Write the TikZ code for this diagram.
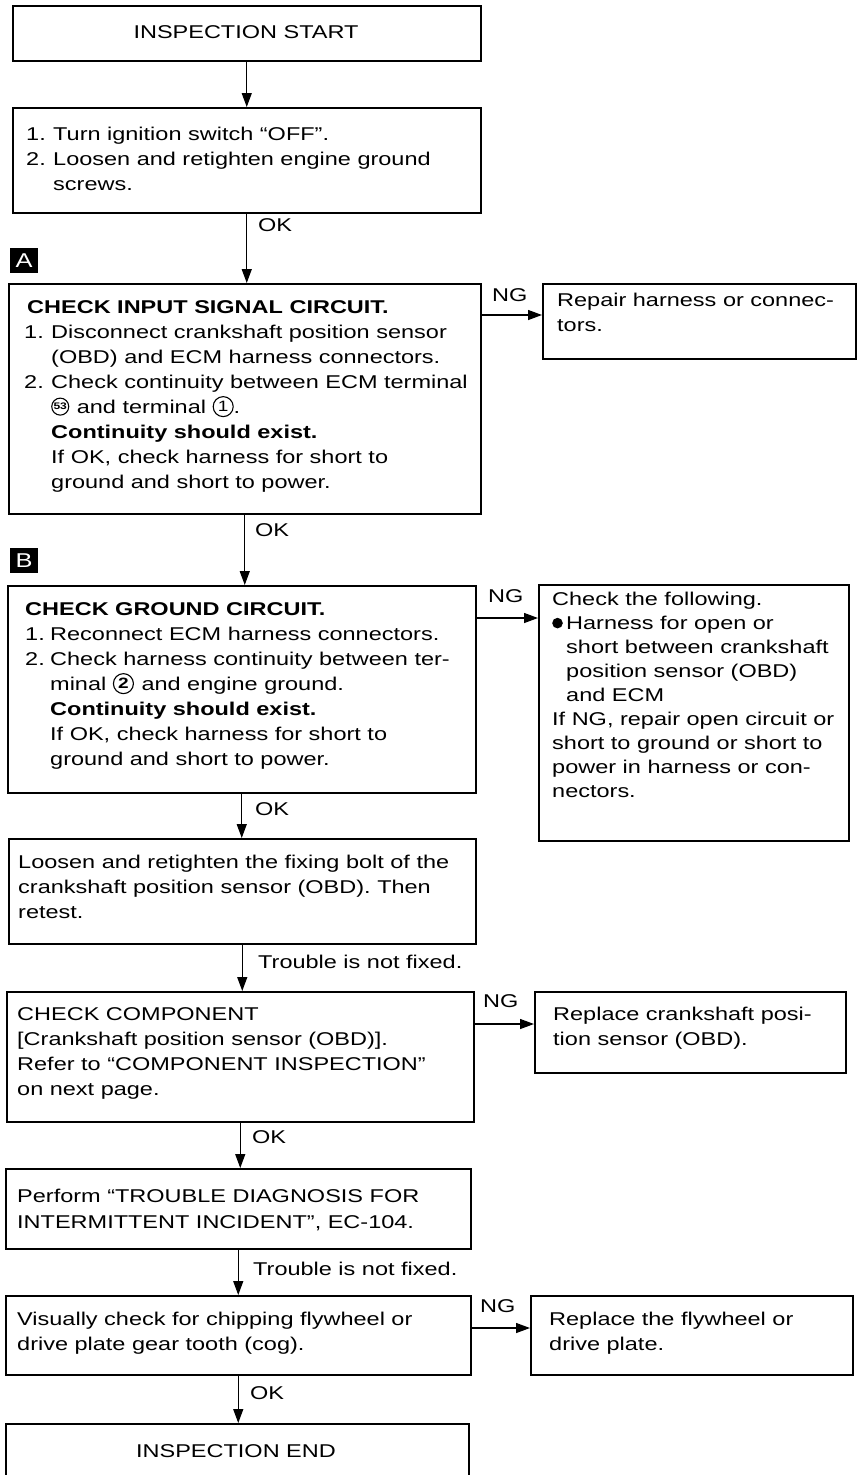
\documentclass[tikz,border=0pt]{standalone}
\usepackage{fontspec}
\setmainfont{Liberation Sans}[FakeStretch=1.27]
\usetikzlibrary{arrows.meta,calc}
\newcommand{\cnum}[3]{\tikz[baseline={(0pt,-6.5pt)}]{\draw[line width=1.1pt] (0pt,0pt) circle (#1); \node[anchor=center, inner sep=0pt, font=#2] (cnm) at (0pt,0pt) {#3};}}
\newcommand{\blt}{\raisebox{1.2pt}{\tikz\fill (0pt,0pt) circle (5.3pt);}}
\begin{document}
\begin{tikzpicture}[x=1pt,y=-1pt,
  box/.style={draw, line width=1.5pt, anchor=north west, inner sep=0pt, rectangle},
  txt/.style={anchor=north west, inner sep=0pt, align=left, font=\fontsize{18.5}{25}\selectfont},
  ctxt/.style={anchor=north, inner sep=0pt, font=\fontsize{18.5}{25}\selectfont},
  arr/.style={line width=1.3pt, -{Triangle[length=14pt,width=10pt]}},
  tag/.style={fill=black, text=white, anchor=north west, inner sep=0pt, minimum width=28pt, minimum height=25pt, font=\fontsize{20}{20}\selectfont}
]
\clip (0,0) rectangle (857,1475);
\fill[white] (0,0) rectangle (857,1475);

% boxes
\node[box, minimum width=468pt, minimum height=55pt]  (b1)   at (12,5) {};
\node[box, minimum width=468pt, minimum height=105pt] (b2)   at (12,107) {};
\node[box, minimum width=472pt, minimum height=230pt] (bA)   at (8,283) {};
\node[box, minimum width=313pt, minimum height=75pt]  (bRep) at (542,283) {};
\node[box, minimum width=468pt, minimum height=207pt] (bB)   at (7,585) {};
\node[box, minimum width=310pt, minimum height=256pt] (bC)   at (538,584) {};
\node[box, minimum width=467pt, minimum height=105pt] (bD)   at (8,838) {};
\node[box, minimum width=467pt, minimum height=130pt] (bE)   at (6,991) {};
\node[box, minimum width=311pt, minimum height=81pt]  (bRc)  at (534,991) {};
\node[box, minimum width=465pt, minimum height=80pt]  (bP)   at (5,1168) {};
\node[box, minimum width=465pt, minimum height=79pt]  (bV)   at (5,1295) {};
\node[box, minimum width=322pt, minimum height=79pt]  (bRf)  at (530,1295) {};
\node[box, minimum width=463pt, minimum height=75pt]  (bEnd) at (5,1423) {};

% tags
\node[tag] (tagA) at (10,248) {A};
\node[tag] (tagB) at (10,548) {B};

% texts
\node[ctxt] (t1) at (246,25) {INSPECTION START};
\node[txt] (t2) at (26,127) {\makebox[27pt][l]{1.}Turn ignition switch “OFF”.\\
\makebox[27pt][l]{2.}Loosen and retighten engine ground\\
\hspace*{27pt}screws.};
\node[txt] (tA) at (27,300) {\textbf{CHECK INPUT SIGNAL CIRCUIT.}\\
\hspace*{-3pt}\makebox[27pt][l]{1.}Disconnect crankshaft position sensor\\
\hspace*{24pt}(OBD) and ECM harness connectors.\\
\hspace*{-3pt}\makebox[27pt][l]{2.}Check continuity between ECM terminal\\
\hspace*{24pt}\cnum{8.5pt}{\fontsize{9.5}{9.5}\selectfont\bfseries}{53}\hspace{1pt} and terminal \cnum{10pt}{\fontsize{15}{15}\selectfont}{1}.\\
\hspace*{24pt}\textbf{Continuity should exist.}\\
\hspace*{24pt}If OK, check harness for short to\\
\hspace*{24pt}ground and short to power.};
\node[txt] (tRep) at (557,293) {Repair harness or connec-\\tors.};
\node[txt] (tB) at (25,602) {\textbf{CHECK GROUND CIRCUIT.}\\
\makebox[25pt][l]{1.}Reconnect ECM harness connectors.\\
\makebox[25pt][l]{2.}Check harness continuity between ter-\\
\hspace*{25pt}minal \cnum{10pt}{\fontsize{15}{15}\selectfont\bfseries}{2}\hspace{1pt} and engine ground.\\
\hspace*{25pt}\textbf{Continuity should exist.}\\
\hspace*{25pt}If OK, check harness for short to\\
\hspace*{25pt}ground and short to power.};
\node[txt, font=\fontsize{18.5}{24}\selectfont] (tC) at (552,592) {Check the following.\\
\makebox[14pt][l]{\blt}Harness for open or\\
\hspace*{14pt}short between crankshaft\\
\hspace*{14pt}position sensor (OBD)\\
\hspace*{14pt}and ECM\\
If NG, repair open circuit or\\
short to ground or short to\\
power in harness or con-\\
nectors.};
\node[txt] (tD) at (18,855) {Loosen and retighten the fixing bolt of the\\
crankshaft position sensor (OBD). Then\\
retest.};
\node[txt] (tE) at (17,1007) {CHECK COMPONENT\\
{[}Crankshaft position sensor (OBD){]}.\\
Refer to “COMPONENT INSPECTION”\\
on next page.};
\node[txt] (tRc) at (553,1007) {Replace crankshaft posi-\\tion sensor (OBD).};
\node[txt, font=\fontsize{18.5}{26}\selectfont] (tP) at (17,1189) {Perform “TROUBLE DIAGNOSIS FOR\\
INTERMITTENT INCIDENT”, EC-104.};
\node[txt] (tV) at (17,1312) {Visually check for chipping flywheel or\\
drive plate gear tooth (cog).};
\node[txt] (tRf) at (549,1312) {Replace the flywheel or\\drive plate.};
\node[ctxt] (tEnd) at (236,1444) {INSPECTION END};

% connector labels
\node[txt] (lok1) at (258,218) {OK};
\node[txt] (lngA) at (492,288) {NG};
\node[txt] (lok2) at (255,523) {OK};
\node[txt] (lngB) at (488,589) {NG};
\node[txt] (lok3) at (255,802) {OK};
\node[txt] (ltr1) at (258,955) {Trouble is not fixed.};
\node[txt] (lngE) at (483,994) {NG};
\node[txt] (lok4) at (252,1130) {OK};
\node[txt] (ltr2) at (253,1262) {Trouble is not fixed.};
\node[txt] (lngV) at (480,1299) {NG};
\node[txt] (lok5) at (250,1386) {OK};

% vertical connectors
\draw[arr] (b1.south) -- (b1.south |- b2.north);
\draw[arr] (b2.south) -- (b2.south |- bA.north);
\draw[arr] (bA.south) -- (bA.south |- bB.north);
\draw[arr] (bB.south) -- (bB.south |- bD.north);
\draw[arr] (bD.south) -- (bD.south |- bE.north);
\draw[arr] (bE.south) -- (bE.south |- bP.north);
\draw[arr] (bP.south) -- (bP.south |- bV.north);
\draw[arr] (bV.south) -- (bV.south |- bEnd.north);

% NG connectors
\coordinate (ngA) at ([yshift=-32pt]bA.north east);
\coordinate (ngB) at ([yshift=-33pt]bB.north east);
\coordinate (ngE) at ([yshift=-33pt]bE.north east);
\coordinate (ngV) at ([yshift=-33pt]bV.north east);
\draw[arr] (ngA) -- (ngA -| bRep.west);
\draw[arr] (ngB) -- (ngB -| bC.west);
\draw[arr] (ngE) -- (ngE -| bRc.west);
\draw[arr] (ngV) -- (ngV -| bRf.west);
\end{tikzpicture}
\end{document}
